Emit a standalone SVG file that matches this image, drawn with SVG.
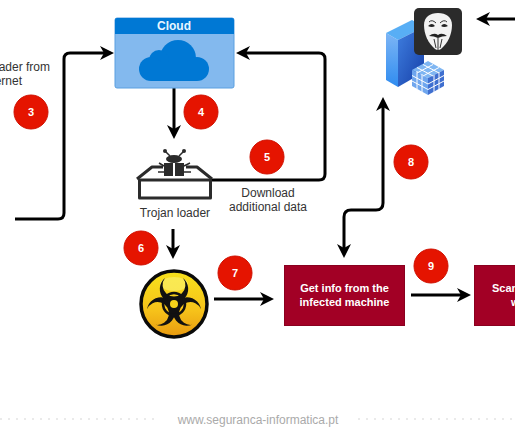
<svg xmlns="http://www.w3.org/2000/svg" width="515" height="430" viewBox="0 0 515 430">
<style>
.c{fill:none;stroke:#000;stroke-width:3}
.a{marker-end:url(#h)}
.b{marker-start:url(#h);marker-end:url(#h)}
.n{fill:#e51400;stroke:#d01000;stroke-width:1}
.nt{font:bold 11px "Liberation Sans",Arial,sans-serif;fill:#fff;text-anchor:middle}
.l{font:12px "Liberation Sans",Arial,sans-serif;fill:#333;text-anchor:middle}
.e{text-anchor:end}
.r{fill:#a20025;stroke:#8a001f;stroke-width:1}
.rt{font:bold 11px "Liberation Sans",Arial,sans-serif;fill:#fff;text-anchor:middle}
.d{stroke:#e4e4e4;stroke-width:1.5;stroke-dasharray:2 6;fill:none}
.i{fill:none;stroke:#2b2b2b;stroke-width:3;stroke-linejoin:round}
</style>
<defs>
<marker id="h" markerUnits="userSpaceOnUse" markerWidth="18" markerHeight="18" refX="10" refY="9" orient="auto-start-reverse" viewBox="0 0 18 18">
<path d="M0,2 L14,9 L0,16 L4,9Z" fill="#000"/>
</marker>
<linearGradient id="bio" x1="0" y1="0" x2="0" y2="1">
<stop offset="0" stop-color="#f7e21c"/><stop offset=".6" stop-color="#f6c21a"/><stop offset="1" stop-color="#e89a10"/>
</linearGradient>
<linearGradient id="sl" x1="0" y1="0" x2="0" y2="1">
<stop offset="0" stop-color="#7db5f5"/><stop offset="1" stop-color="#2f8cf0"/>
</linearGradient>
<linearGradient id="sr" x1="0" y1="0" x2="1" y2="1">
<stop offset="0" stop-color="#3f7fe0"/><stop offset="1" stop-color="#163fa8"/>
</linearGradient>
<path id="cres" d="M-9,-26 A14.2 14.2 0 1 0 9,-26 A11.4 11.4 0 1 1 -9,-26Z" fill="#111"/>
</defs>
<rect width="515" height="430" fill="#fff"/>

<g id="connectors">
<path class="c a" d="M15,219 H58 Q64,219 64,213 V59 Q64,53 70,53 H110"/>
<path class="c a" d="M211,180 H319 Q325,180 325,174 V59 Q325,53 319,53 H240"/>
<path class="c a" d="M174,88 V135"/>
<path class="c a" d="M173,229 V255"/>
<path class="c a" d="M214,299 H270"/>
<path class="c a" d="M411,295 H467"/>
<path class="c b" d="M383,101 V203 Q383,210 376,210 H351 Q344,210 344,217 V254"/>
<path class="c a" d="M515,19 H480"/>
</g>

<g id="cloud">
<rect x="115" y="18" width="119" height="70" rx="2" fill="#83b9ee" stroke="#5a9fe0"/>
<path d="M115,34 V20 Q115,18 117,18 H232 Q234,18 234,20 V34Z" fill="#0078d4"/>
<text x="174" y="30" text-anchor="middle" style="font:bold 12px 'Liberation Sans',Arial,sans-serif;fill:#e8f6ff">Cloud</text>
<g fill="#0078d4">
<circle cx="178" cy="58" r="18"/><circle cx="159" cy="60" r="10"/><circle cx="151" cy="69" r="12"/><circle cx="197" cy="69" r="12"/>
<rect x="151" y="62" width="46" height="19"/>
</g>
</g>

<g id="trojan-loader">
<rect class="i" x="139.500" y="180" width="71" height="18"/>
<path class="i" d="M137,179 L152,167 H163 M186,167 H197 L212,179"/>
<g fill="#2b2b2b">
<ellipse cx="174" cy="159" rx="8" ry="4"/>
<rect x="164" y="163" width="9" height="13"/><rect x="175" y="163" width="9" height="13"/>
<circle cx="165" cy="151" r="2"/><circle cx="184" cy="151" r="2"/>
</g>
<path d="M165,151 L170,156 M184,151 L179,156 M159,163 L164,166 M190,163 L184,166 M158,172 H164 M191,172 H184" stroke="#2b2b2b" stroke-width="1.500" fill="none"/>
<text class="l" x="175" y="217">Trojan loader</text>
</g>

<g id="biohazard">
<circle cx="174" cy="304" r="33" fill="url(#bio)" stroke="#0a0a0a" stroke-width="3.500"/>
<ellipse cx="174" cy="284" rx="14" ry="7" fill="#fbf06a" opacity=".7"/>
<use href="#cres" x="174" y="304"/>
<use href="#cres" transform="translate(174 304) rotate(120)"/>
<use href="#cres" transform="translate(174 304) rotate(240)"/>
<circle cx="174" cy="304" r="11" fill="none" stroke="#111" stroke-width="2.500"/>
<circle cx="174" cy="304" r="4" fill="#f6d21a"/>
</g>

<g id="server">
<polygon points="386,33 398,40 398,87 386,80" fill="url(#sl)"/>
<polygon points="386,33 412,20 424,27 398,40" fill="#58aef5"/>
<polygon points="398,40 424,27 424,72 398,87" fill="url(#sr)"/>
<polygon points="428,61 444,70 428,78 412,70" fill="#7fb6f2"/>
<polygon points="412,70 428,78 428,95 412,86" fill="#6fa6ee"/>
<polygon points="428,78 444,70 444,86 428,95" fill="#3f6fd0"/>
<path d="M412,75.500 L428,84 L444,75.500 M412,81 L428,89.500 L444,81 M417,71 V89 M422,74 V92 M434,75 V92 M439,72 V89 M417,67.500 L433,76 M423,64.500 L439,73 M439,67.500 L423,76 M433,64.500 L417,73" stroke="#fff" stroke-width="1" fill="none"/>
</g>

<g id="mask">
<rect x="414" y="8" width="48" height="47" rx="5" fill="#2b2b2b"/>
<path d="M438,13 C446,13 452,17 452,25 C452,34 448,43 441,49 Q438,51 435,49 C428,43 424,34 424,25 C424,17 430,13 438,13Z" fill="#f2f2f2"/>
<path d="M428,26 Q432,22 435,26 Q432,28 428,26Z M441,26 Q444,22 448,26 Q444,28 441,26Z M429,36 Q434,32 438,35 Q442,32 447,36 Q442,36 438,38 Q434,36 429,36Z" fill="#222"/>
<path d="M438,38 V50 M434,39 L436,48 M442,39 L440,48 M429,22 Q432,19 436,23 M447,22 Q444,19 440,23" stroke="#333" stroke-width="1" fill="none"/>
</g>

<g id="box-get-info">
<rect class="r" x="284.500" y="265.500" width="120" height="60"/>
<text class="rt" x="344.500" y="292">Get info from the</text>
<text class="rt" x="344.500" y="306">infected machine</text>
</g>
<g id="box-scan">
<rect class="r" x="474.500" y="265.500" width="60" height="60"/>
<text class="rt" x="492" y="292" style="text-anchor:start">Scan</text>
<text class="rt" x="511" y="306" style="text-anchor:start">w</text>
</g>

<g id="step-3"><circle class="n" cx="31" cy="112" r="17"/><text class="nt" x="31" y="116">3</text></g>
<g id="step-4"><circle class="n" cx="201" cy="112" r="17"/><text class="nt" x="201" y="116">4</text></g>
<g id="step-5"><circle class="n" cx="267" cy="157" r="17"/><text class="nt" x="267" y="161">5</text></g>
<g id="step-6"><circle class="n" cx="141" cy="248" r="17"/><text class="nt" x="141" y="252">6</text></g>
<g id="step-7"><circle class="n" cx="235" cy="273" r="17"/><text class="nt" x="235" y="277">7</text></g>
<g id="step-8"><circle class="n" cx="411" cy="162" r="17"/><text class="nt" x="411" y="166">8</text></g>
<g id="step-9"><circle class="n" cx="431" cy="266" r="17"/><text class="nt" x="431" y="270">9</text></g>

<g id="labels">
<text class="l e" x="50" y="71">ader from</text>
<text class="l e" x="22" y="85">ernet</text>
<text class="l" x="268" y="197">Download</text>
<text class="l" x="268" y="211">additional data</text>
</g>

<g id="footer">
<path class="d" d="M0,419 H155"/>
<path class="d" d="M358,419 H515"/>
<text x="258" y="424" text-anchor="middle" style="font:12px 'Liberation Sans',Arial,sans-serif;fill:#aaa">www.seguranca-informatica.pt</text>
</g>
</svg>
